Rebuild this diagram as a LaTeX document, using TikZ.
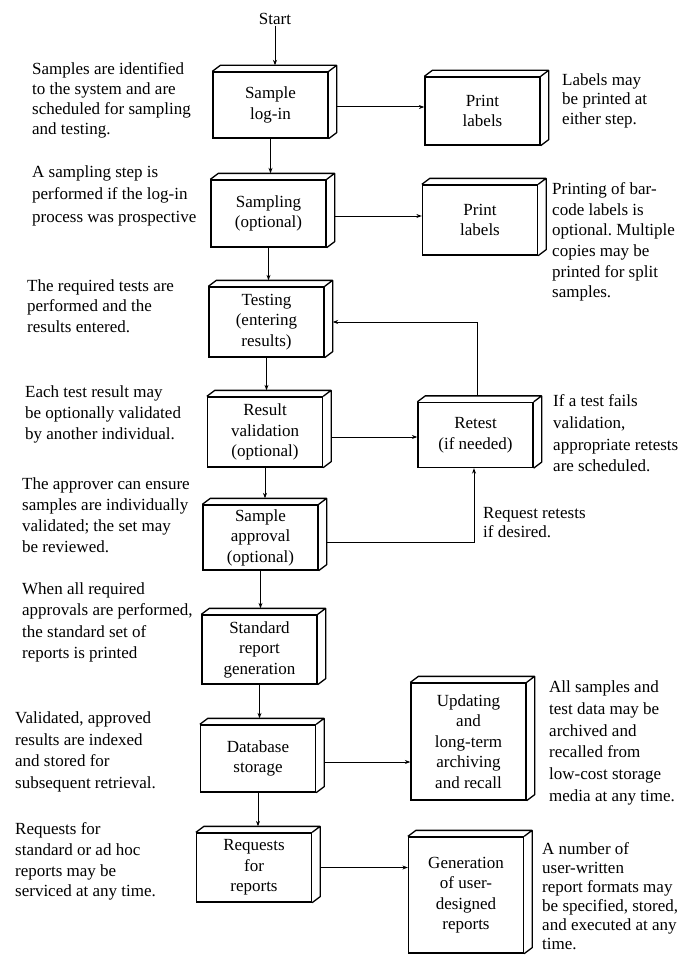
\documentclass[tikz,border=0pt]{standalone}
\usepackage{fontspec}
\setmainfont{Liberation Serif}
\usetikzlibrary{arrows.meta,calc}
\frenchspacing
\newcommand\txtsize[1]{\fontsize{17}{#1}\selectfont}
\tikzset{
  boxface/.style={draw, line width=1.3pt, fill=white, align=center, minimum width=115pt, inner sep=2pt, font=\txtsize{20.5}},
  boxline/.style={line width=1.3pt, line join=round},
  conn/.style={line width=1pt, -{Stealth[length=5.5pt,width=4pt]}},
  note/.style={align=left, anchor=north west, inner sep=0pt},
}
\newcommand\mkbox[5]{%
  \node[boxface, minimum height=#4pt] (#1) at (#2,#3) {#5};
  \draw[boxline] (#1.north west) -- ++(8,-6) -- ([shift={(8,-6)}]#1.north east) -- ([shift={(8,-6)}]#1.south east) -- (#1.south east) (#1.north east) -- ++(8,-6);
}
\begin{document}
\begin{tikzpicture}[x=1pt,y=-1pt]
\useasboundingbox (0,0) rectangle (687,955);
\node[font=\txtsize{20}, inner sep=1pt] (start) at (275,19) {Start};

% main column
\mkbox{b1}{270.5}{105}{66}{Sample\\log-in}
\mkbox{b2}{268.5}{213.5}{67}{Sampling\\(optional)}
\mkbox{b3}{266.5}{322}{70}{Testing\\(entering\\results)}
\mkbox{b4}{265}{432}{70}{Result\\validation\\(optional)}
\mkbox{b5}{260.5}{537.5}{65}{Sample\\approval\\(optional)}
\mkbox{b6}{259.5}{649.5}{69}{Standard\\report\\generation}
\mkbox{b7}{258}{758.5}{67}{Database\\storage}
\mkbox{b8}{254}{867.5}{69}{Requests\\for\\reports}

% right column
\mkbox{p1}{482.5}{111}{68}{Print\\labels}
\mkbox{p2}{480}{220}{70}{Print\\labels}
\mkbox{rt}{475.5}{435}{65}{Retest\\(if needed)}
\mkbox{upd}{468.5}{741.5}{117}{Updating\\and\\long-term\\archiving\\and recall}
\mkbox{gen}{466}{895}{116}{Generation\\of user-\\designed\\reports}

% vertical flow
\coordinate (t1) at ([yshift=6pt]b1.north);
\coordinate (t2) at ([yshift=6pt]b2.north);
\coordinate (t3) at ([yshift=6pt]b3.north);
\coordinate (t4) at ([yshift=6pt]b4.north);
\coordinate (t5) at ([yshift=6pt]b5.north);
\coordinate (t6) at ([yshift=6pt]b6.north);
\coordinate (t7) at ([yshift=6pt]b7.north);
\coordinate (t8) at ([yshift=6pt]b8.north);
\draw[conn] (start.south) -- (start.south |- t1);
\draw[conn] (b1.south) -- (b1.south |- t2);
\draw[conn] (b2.south) -- (b2.south |- t3);
\draw[conn] (b3.south) -- (b3.south |- t4);
\draw[conn] (b4.south) -- (b4.south |- t5);
\draw[conn] (b5.south) -- (b5.south |- t6);
\draw[conn] (b6.south) -- (b6.south |- t7);
\draw[conn] (b7.south) -- (b7.south |- t8);

% side connectors
\coordinate (e1) at ([xshift=8pt,yshift=-2pt]b1.east);
\coordinate (e2) at ([xshift=8pt,yshift=-2.5pt]b2.east);
\coordinate (e3) at ([xshift=8pt]b3.east);
\coordinate (e4) at ([xshift=8pt,yshift=-5pt]b4.east);
\coordinate (e5) at ([xshift=8pt,yshift=-4.5pt]b5.east);
\coordinate (e7) at ([xshift=8pt,yshift=-3.5pt]b7.east);
\coordinate (e8) at ([xshift=8pt]b8.east);
\draw[conn] (e1) -- (e1 -| p1.west);
\draw[conn] (e2) -- (e2 -| p2.west);
\draw[conn] (e4) -- (e4 -| rt.west);
\draw[conn] ([xshift=1.5pt,yshift=6pt]rt.north) |- (e3);
\draw[conn] (e5) -| ([xshift=-1.5pt]rt.south);
\draw[conn] (e7) -- (e7 -| upd.west);
\draw[conn] (e8) -- (e8 -| gen.west);

% left notes
\node[note, font=\txtsize{20}] (l1) at (32,62.5) {Samples are identified\\to the system and are\\scheduled for sampling\\and testing.};
\node[note, font=\txtsize{22.5}] (l2) at (32,165.5) {A sampling step is\\performed if the log-in\\process was prospective};
\node[note, font=\txtsize{20.5}] (l3) at (27,279.5) {The required tests are\\performed and the\\results entered.};
\node[note, font=\txtsize{21}] (l4) at (25,385.5) {Each test result may\\be optionally validated\\by another individual.};
\node[note, font=\txtsize{21}] (l5) at (22,477.5) {The approver can ensure\\samples are individually\\validated; the set may\\be reviewed.};
\node[note, font=\txtsize{21.3}] (l6) at (22,582.5) {When all required\\approvals are performed,\\the standard set of\\reports is printed};
\node[note, font=\txtsize{21.5}] (l7) at (15,711.5) {Validated, approved\\results are indexed\\and stored for\\subsequent retrieval.};
\node[note, font=\txtsize{20.7}] (l8) at (15,822.5) {Requests for\\standard or ad hoc\\reports may be\\serviced at any time.};

% right notes
\node[note, font=\txtsize{19.5}] (r1) at (562,73.5) {Labels may\\be printed at\\either step.};
\node[note, font=\txtsize{20.6}] (r2) at (552,182.5) {Printing of bar-\\code labels is\\optional. Multiple\\copies may be\\printed for split\\samples.};
\node[note, font=\txtsize{21.7}] (r3) at (553,394.5) {If a test fails\\validation,\\appropriate retests\\are scheduled.};
\node[note, font=\txtsize{19}] (r4) at (483,507.5) {Request retests\\if desired.};
\node[note, font=\txtsize{21.8}] (r5) at (549,680.5) {All samples and\\test data may be\\archived and\\recalled from\\low-cost storage\\media at any time.};
\node[note, font=\txtsize{19}] (r6) at (542,842.5) {A number of\\user-written\\report formats may\\be specified, stored,\\and executed at any\\time.};
\end{tikzpicture}
\end{document}
